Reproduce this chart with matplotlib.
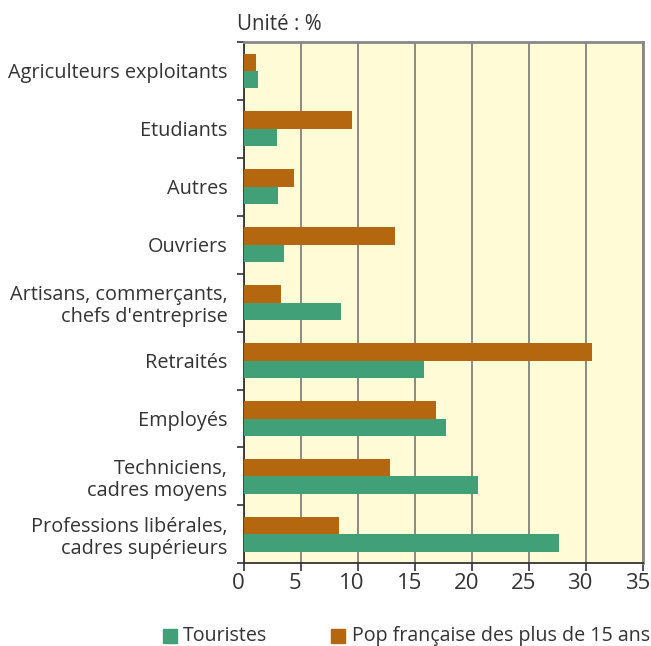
import matplotlib
matplotlib.use("Agg")
import matplotlib.pyplot as plt
import matplotlib.transforms as mtransforms
import numpy as np
from matplotlib.patches import Rectangle

categories = ["Agriculteurs exploitants", "Etudiants", "Autres", "Ouvriers",
              "Artisans, commerçants,\nchefs d'entreprise", "Retraités", "Employés",
              "Techniciens,\ncadres moyens", "Professions libérales,\ncadres supérieurs"]
touristes = [1.2, 2.9, 3.0, 3.5, 8.5, 15.8, 17.7, 20.5, 27.6]
pop_fr = [1.0, 9.5, 4.4, 13.2, 3.2, 30.5, 16.8, 12.8, 8.3]
xticks = [0, 5, 10, 15, 20, 25, 30, 35]

green = "#42A078"
orange = "#B5670F"
bg = "#FFFBD6"
tc = "#333333"

plt.rcParams['font.family'] = ['Open Sans', 'DejaVu Sans']

fig = plt.figure(figsize=(6.51, 6.46), dpi=100)
ax = fig.add_axes([0.375, 0.128, 0.613, 0.807])
ax.set_facecolor(bg)

y = np.arange(len(categories))
h = 0.3
ax.barh(y - h / 2, pop_fr, height=h, color=orange, zorder=3)
ax.barh(y + h / 2, touristes, height=h, color=green, zorder=3)

ax.set_xlim(0, 35)
ax.set_ylim(len(categories) - 0.5, -0.5)
ax.set_xticks(xticks)
ax.set_xticklabels([])
# tick labels, slightly shifted left as in the reference
offset = mtransforms.ScaledTranslation(-6 / 100, -10 / 100, fig.dpi_scale_trans)
trans = ax.get_xaxis_transform() + offset
for t in xticks:
    ax.text(t, 0, str(t), transform=trans, ha='center', va='top',
            fontsize=16, color=tc, clip_on=False)

ax.set_yticks(y)
ax.set_yticklabels(categories, fontsize=14.3, color=tc, linespacing=1.15)
ax.set_yticks(np.arange(-0.5, len(categories), 1), minor=True)
ax.tick_params(axis='y', which='major', length=0, pad=12)
ax.tick_params(axis='y', which='minor', length=5, width=1.2, color=tc)
ax.tick_params(axis='x', length=6, width=1.2, color=tc, pad=3)
ax.grid(axis='x', color="#777777", linewidth=1.2, zorder=1)
for s in ['top', 'right']:
    ax.spines[s].set_color("#888888")
    ax.spines[s].set_linewidth(2)
for s in ['left', 'bottom']:
    ax.spines[s].set_color(tc)
    ax.spines[s].set_linewidth(1.3)

fig.text(237 / 651, 1 - 24 / 646, "Unité : %", fontsize=14.8, color=tc, va='center', ha='left')

# legend
ly = 1 - 636 / 646
sq = 14
fig.patches.append(Rectangle((163 / 651, ly - (sq / 2) / 646), sq / 651, sq / 646,
                             color=green, transform=fig.transFigure))
fig.text(183 / 651, ly, "Touristes", fontsize=14.1, color=tc, va='center', ha='left')
fig.patches.append(Rectangle((331 / 651, ly - (sq / 2) / 646), sq / 651, sq / 646,
                             color=orange, transform=fig.transFigure))
fig.text(352 / 651, ly, "Pop française des plus de 15 ans", fontsize=14.1, color=tc,
         va='center', ha='left')

fig.savefig("out.png", dpi=100)
